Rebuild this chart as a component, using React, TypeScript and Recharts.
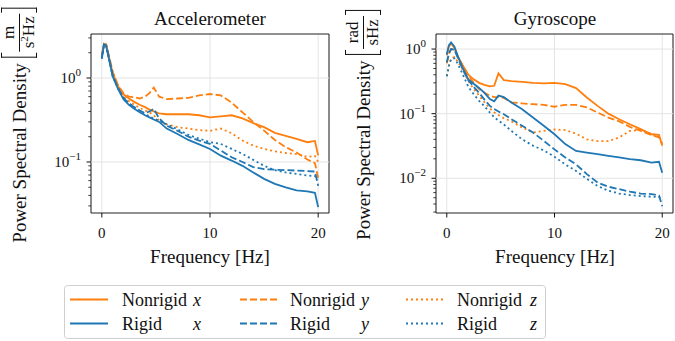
import React from "react";
import {
  LineChart,
  Line,
  XAxis,
  YAxis,
  CartesianGrid,
  ReferenceLine,
  ReferenceArea,
} from "recharts";

// frequency bins [Hz], shared by both panels
const freq = [0, 0.2, 0.4, 0.7, 1, 1.5, 2, 2.5, 3, 3.5, 4, 4.4, 4.8, 5.3, 6, 7, 8, 9, 10, 11, 12, 13, 14, 15, 16, 17, 18, 19, 19.7, 20];

// accelerometer PSD [m/(s^2 Hz)]
const accelNonrigidX = [1.85, 2.55, 2.5, 1.7, 1.15, 0.8, 0.64, 0.57, 0.52, 0.48, 0.45, 0.42, 0.4, 0.38, 0.37, 0.37, 0.37, 0.36, 0.34, 0.35, 0.36, 0.33, 0.29, 0.26, 0.222, 0.205, 0.188, 0.172, 0.178, 0.12];
const accelNonrigidY = [1.85, 2.55, 2.5, 1.75, 1.2, 0.82, 0.66, 0.6, 0.59, 0.57, 0.6, 0.66, 0.77, 0.6, 0.56, 0.57, 0.58, 0.62, 0.645, 0.62, 0.51, 0.39, 0.3, 0.236, 0.183, 0.15, 0.13, 0.107, 0.097, 0.065];
const accelNonrigidZ = [1.8, 2.5, 2.45, 1.7, 1.12, 0.78, 0.6, 0.53, 0.48, 0.44, 0.41, 0.39, 0.36, 0.31, 0.28, 0.26, 0.25, 0.24, 0.235, 0.25, 0.22, 0.18, 0.157, 0.143, 0.134, 0.128, 0.124, 0.115, 0.118, 0.1];
const accelRigidX = [1.7, 2.5, 2.4, 1.6, 1.05, 0.74, 0.56, 0.48, 0.43, 0.39, 0.36, 0.34, 0.32, 0.3, 0.25, 0.215, 0.183, 0.162, 0.143, 0.119, 0.104, 0.09, 0.075, 0.063, 0.055, 0.05, 0.046, 0.0447, 0.043, 0.029];
const accelRigidY = [1.75, 2.5, 2.45, 1.65, 1.08, 0.76, 0.58, 0.5, 0.45, 0.41, 0.38, 0.4, 0.43, 0.33, 0.27, 0.235, 0.2, 0.18, 0.164, 0.137, 0.114, 0.1, 0.087, 0.082, 0.081, 0.08, 0.079, 0.078, 0.077, 0.052];
const accelRigidZ = [1.7, 2.45, 2.4, 1.6, 1.05, 0.75, 0.58, 0.5, 0.45, 0.4, 0.37, 0.35, 0.33, 0.31, 0.28, 0.245, 0.21, 0.19, 0.172, 0.164, 0.143, 0.125, 0.106, 0.09, 0.08, 0.075, 0.072, 0.069, 0.068, 0.062];

// gyroscope PSD [rad/(s Hz)]
const gyroNonrigidX = [0.8, 1.1, 1.22, 1.05, 0.78, 0.55, 0.4, 0.34, 0.3, 0.28, 0.265, 0.27, 0.42, 0.33, 0.32, 0.31, 0.3, 0.295, 0.3, 0.287, 0.249, 0.178, 0.132, 0.1, 0.082, 0.0687, 0.0577, 0.048, 0.047, 0.032];
const gyroNonrigidY = [0.6, 0.85, 1.0, 0.98, 0.78, 0.55, 0.39, 0.3, 0.24, 0.21, 0.19, 0.18, 0.18, 0.175, 0.15, 0.144, 0.14, 0.137, 0.128, 0.137, 0.137, 0.125, 0.104, 0.087, 0.076, 0.0625, 0.054, 0.0465, 0.043, 0.034];
const gyroNonrigidZ = [0.38, 0.55, 0.72, 0.75, 0.65, 0.47, 0.32, 0.24, 0.19, 0.15, 0.12, 0.105, 0.095, 0.085, 0.076, 0.061, 0.051, 0.054, 0.057, 0.0557, 0.049, 0.04, 0.0376, 0.0376, 0.0428, 0.054, 0.0557, 0.049, 0.0438, 0.042];
const gyroRigidX = [0.82, 1.15, 1.27, 1.1, 0.8, 0.5, 0.34, 0.29, 0.25, 0.21, 0.168, 0.155, 0.19, 0.18, 0.149, 0.117, 0.087, 0.065, 0.048, 0.0338, 0.0265, 0.025, 0.0236, 0.0222, 0.021, 0.0198, 0.019, 0.0175, 0.018, 0.0122];
const gyroRigidY = [0.62, 0.85, 1.0, 0.98, 0.75, 0.48, 0.33, 0.26, 0.21, 0.165, 0.132, 0.118, 0.108, 0.098, 0.082, 0.065, 0.051, 0.038, 0.028, 0.021, 0.0164, 0.0116, 0.0086, 0.0074, 0.0068, 0.0062, 0.0058, 0.0057, 0.0054, 0.0037];
const gyroRigidZ = [0.38, 0.55, 0.7, 0.72, 0.6, 0.4, 0.26, 0.2, 0.158, 0.13, 0.104, 0.088, 0.078, 0.068, 0.054, 0.04, 0.032, 0.027, 0.0215, 0.0164, 0.013, 0.0098, 0.0076, 0.0064, 0.0058, 0.0055, 0.0053, 0.0052, 0.0051, 0.0047];

const xTicks = [0, 10, 20];

const ORANGE = "#ff7f0e";
const BLUE = "#1f77b4";
const INK = "#111";
const GRID = "#e4e4e4";
const FONT = '"Liberation Serif", "DejaVu Serif", serif';
const DASHED = "7 3";
const DOTTED = "2 3";

const seriesDefs = [
  { key: "nx", color: ORANGE, dash: undefined, label: "Nonrigid", axis: "x" },
  { key: "ny", color: ORANGE, dash: DASHED, label: "Nonrigid", axis: "y" },
  { key: "nz", color: ORANGE, dash: DOTTED, label: "Nonrigid", axis: "z" },
  { key: "rx", color: BLUE, dash: undefined, label: "Rigid", axis: "x" },
  { key: "ry", color: BLUE, dash: DASHED, label: "Rigid", axis: "y" },
  { key: "rz", color: BLUE, dash: DOTTED, label: "Rigid", axis: "z" },
];

const accelRows = freq.map((f, i) => ({
  f,
  nx: accelNonrigidX[i],
  ny: accelNonrigidY[i],
  nz: accelNonrigidZ[i],
  rx: accelRigidX[i],
  ry: accelRigidY[i],
  rz: accelRigidZ[i],
}));

const gyroRows = freq.map((f, i) => ({
  f,
  nx: gyroNonrigidX[i],
  ny: gyroNonrigidY[i],
  nz: gyroNonrigidZ[i],
  rx: gyroRigidX[i],
  ry: gyroRigidY[i],
  rz: gyroRigidZ[i],
}));

// major + minor ticks of a log axis inside [lo, hi]
function logTicks(lo: number, hi: number): number[] {
  const out: number[] = [];
  for (let e = -4; e <= 1; e++) {
    for (let m = 1; m <= 9; m++) {
      const v = Number((m * Math.pow(10, e)).toPrecision(3));
      if (v >= lo && v <= hi) out.push(v);
    }
  }
  return out;
}

function isMajor(v: number) {
  const e = Math.log10(v);
  return Math.abs(e - Math.round(e)) < 1e-6;
}

const YTick = (props: any) => {
  const { x, y, payload } = props;
  const v = payload.value as number;
  const major = isMajor(v);
  const e = Math.round(Math.log10(v));
  return (
    <g>
      <line x1={x} x2={x - (major ? 4.5 : 2.7)} y1={y} y2={y} stroke={INK} strokeWidth={major ? 1 : 0.8} />
      {major && (
        <text x={x - 10} y={y + 5} textAnchor="end" fontSize={15} fontFamily={FONT} fill={INK}>
          10
          <tspan dy={-7} fontSize={11}>
            {e === 0 ? "0" : "\u2212" + Math.abs(e)}
          </tspan>
        </text>
      )}
    </g>
  );
};

const XTick = (props: any) => {
  const { x, y, payload } = props;
  return (
    <g>
      <line x1={x} x2={x} y1={y} y2={y + 4.5} stroke={INK} strokeWidth={1} />
      <text x={x} y={y + 25} textAnchor="middle" fontSize={15} fontFamily={FONT} fill={INK}>
        {payload.value}
      </text>
    </g>
  );
};

type PanelProps = {
  left: number;
  width: number;
  rightMargin: number;
  data: Record<string, number>[];
  domain: [number, number];
};

function Panel({ left, width, rightMargin, data, domain }: PanelProps) {
  const ticks = logTicks(domain[0], domain[1]);
  const majors = ticks.filter(isMajor);
  return (
    <div style={{ position: "absolute", left, top: 0 }}>
      <LineChart width={width} height={245} data={data} margin={{ top: 34, right: rightMargin, left: 0, bottom: 0 }}>
        <CartesianGrid horizontal={false} stroke={GRID} strokeWidth={1} />
        {majors.map((m) => (
          <ReferenceLine key={m} y={m} stroke={GRID} strokeWidth={1} />
        ))}
        <XAxis
          dataKey="f"
          type="number"
          domain={[-1, 21]}
          ticks={xTicks}
          interval={0}
          height={32}
          tickSize={0}
          tickMargin={0}
          axisLine={false}
          tickLine={false}
          tick={(p: any) => <XTick {...p} />}
          allowDataOverflow
        />
        <YAxis
          type="number"
          scale="log"
          domain={domain}
          ticks={ticks}
          interval={0}
          width={91}
          tickSize={0}
          tickMargin={0}
          axisLine={false}
          tickLine={false}
          tick={(p: any) => <YTick {...p} />}
          allowDataOverflow
        />
        {seriesDefs.map((s) => (
          <Line
            key={s.key}
            type="linear"
            dataKey={s.key}
            stroke={s.color}
            strokeWidth={1.8}
            strokeDasharray={s.dash}
            dot={false}
            activeDot={false}
            isAnimationActive={false}
          />
        ))}
        <ReferenceArea x1={-1} x2={21} y1={domain[0]} y2={domain[1]} fill="none" fillOpacity={0} stroke="#222" strokeWidth={1} />
      </LineChart>
    </div>
  );
}

// a square bracket drawn with borders, sized to the fraction
function Bracket({ side }: { side: "left" | "right" }) {
  const b = `1.2px solid ${INK}`;
  return (
    <span
      style={{
        display: "inline-block",
        width: 4,
        height: 34,
        borderTop: b,
        borderBottom: b,
        borderLeft: side === "left" ? b : "none",
        borderRight: side === "right" ? b : "none",
        margin: side === "left" ? "0 1px 0 6px" : "0 0 0 1px",
      }}
    />
  );
}

function YLabel({ cx, cy, num, den }: { cx: number; cy: number; num: React.ReactNode; den: React.ReactNode }) {
  return (
    <div
      style={{
        position: "absolute",
        left: cx,
        top: cy,
        transform: "translate(-50%, -50%) rotate(-90deg)",
        display: "flex",
        alignItems: "center",
        whiteSpace: "nowrap",
        fontFamily: FONT,
        fontSize: 19,
        color: INK,
        lineHeight: 1,
      }}
    >
      <span>Power Spectral Density</span>
      <Bracket side="left" />
      <span style={{ display: "inline-flex", flexDirection: "column", alignItems: "center", fontSize: 17, lineHeight: 0.95 }}>
        <span style={{ padding: "0 3px 1px" }}>{num}</span>
        <span style={{ borderTop: `1px solid ${INK}`, padding: "1px 3px 0" }}>{den}</span>
      </span>
      <Bracket side="right" />
    </div>
  );
}

const legendCols = [70, 240, 406];
const legendTextX = [122, 290, 457];
const legendVarX = [193, 361, 530];
const legendRows = [299.5, 323.5];

export default function App() {
  return (
    <div style={{ position: "absolute", left: 0, top: 0, width: 675, height: 341, background: "#fff", overflow: "hidden" }}>
      <Panel left={0} width={340} rightMargin={11} data={accelRows} domain={[0.0247, 3.34]} />
      <Panel left={345} width={330} rightMargin={2} data={gyroRows} domain={[0.0029, 1.71]} />

      <YLabel cx={19} cy={125} num="m" den={<span>s<sup style={{ fontSize: 11, verticalAlign: "6px", lineHeight: 0 }}>2</sup>Hz</span>} />
      <YLabel cx={363} cy={125} num="rad" den="sHz" />

      <svg width={675} height={341} style={{ position: "absolute", left: 0, top: 0, pointerEvents: "none" }} fontFamily={FONT}>
        <text x={210} y={25} textAnchor="middle" fontSize={19} fill={INK}>Accelerometer</text>
        <text x={555} y={25} textAnchor="middle" fontSize={19} fill={INK}>Gyroscope</text>
        <text x={210} y={263} textAnchor="middle" fontSize={19} fill={INK}>Frequency [Hz]</text>
        <text x={555} y={263} textAnchor="middle" fontSize={19} fill={INK}>Frequency [Hz]</text>

        <rect x={64.5} y={285.5} width={481} height={53} rx={3} fill="#fff" stroke="#cfcfcf" strokeWidth={1} />
        {seriesDefs.map((s, i) => {
          const col = i % 3;
          const row = i < 3 ? 0 : 1;
          const cy = legendRows[row];
          return (
            <g key={s.key}>
              <line x1={legendCols[col]} x2={legendCols[col] + 38} y1={cy} y2={cy} stroke={s.color} strokeWidth={1.8} strokeDasharray={s.dash} />
              <text x={legendTextX[col]} y={cy + 6} fontSize={18} fill={INK}>{s.label}</text>
              <text x={legendVarX[col]} y={cy + 6} fontSize={18} fontStyle="italic" fill={INK}>{s.axis}</text>
            </g>
          );
        })}
      </svg>
    </div>
  );
}
